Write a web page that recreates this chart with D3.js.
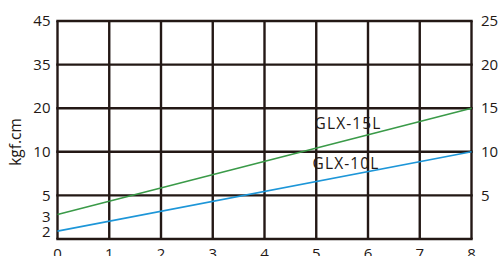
<!DOCTYPE html>
<html>
<head>
<meta charset="utf-8">
<script src="https://cdn.jsdelivr.net/npm/d3@7"></script>
<style>
  body { margin: 0; background: #fff; }
  svg { display: block; font-family: "Open Sans", "Noto Sans", sans-serif; }
</style>
</head>
<body>
<svg id="chart" width="498" height="256"></svg>
<script>
// x axis: 0..8
const xTicks = [0, 1, 2, 3, 4, 5, 6, 7, 8];
// right axis values (the scale the lines are drawn in)
const rightTicks = [5, 10, 15, 20, 25];
// left axis labels and where they sit on the right-axis scale
const leftLabels = ["45", "35", "20", "10", "5", "3", "2"];
const leftPos = [25, 20, 15, 10, 5, 2.6, 0.8];

const xs = [0, 8];
const glx15 = [2.8, 15];
const glx10 = [0.9, 10];

const seriesNames = ["GLX-15L", "GLX-10L"];

const svg = d3.select("#chart");
const margin = { left: 57.5, right: 26.5, top: 21, bottom: 17 };
const W = 498, H = 256;

const x = d3.scaleLinear().domain([0, 8]).range([margin.left, W - margin.right]);
const y = d3.scaleLinear().domain([0, 25]).range([H - margin.bottom, margin.top]);

const ink = "#231815";

// grid
svg.append("g")
  .selectAll("line")
  .data(xTicks)
  .join("line")
  .attr("x1", (d) => x(d)).attr("x2", (d) => x(d))
  .attr("y1", y(0)).attr("y2", y(25))
  .attr("stroke", ink).attr("stroke-width", 2.4);

svg.append("g")
  .selectAll("line")
  .data([0].concat(rightTicks))
  .join("line")
  .attr("x1", x(0) - 1.2).attr("x2", x(8) + 1.2)
  .attr("y1", (d) => y(d)).attr("y2", (d) => y(d))
  .attr("stroke", ink).attr("stroke-width", 2.4);

// lines
const line = d3.line().x((d) => x(d[0])).y((d) => y(d[1]));
svg.append("path")
  .attr("d", line(xs.map((v, i) => [v, glx15[i]])))
  .attr("fill", "none").attr("stroke", "#3a9a48").attr("stroke-width", 1.6);
svg.append("path")
  .attr("d", line(xs.map((v, i) => [v, glx10[i]])))
  .attr("fill", "none").attr("stroke", "#1d96d8").attr("stroke-width", 1.6);

const txt = "#231815";

// left labels
svg.append("g")
  .selectAll("text")
  .data(leftLabels)
  .join("text")
  .attr("x", 50.5)
  .attr("y", (d, i) => y(leftPos[i]))
  .attr("dy", "0.35em")
  .attr("text-anchor", "end")
  .attr("font-size", 15)
  .attr("fill", txt)
  .text((d) => d);

// right labels
svg.append("g")
  .selectAll("text")
  .data(rightTicks)
  .join("text")
  .attr("x", 481)
  .attr("y", (d) => y(d))
  .attr("dy", "0.35em")
  .attr("font-size", 15)
  .attr("fill", txt)
  .text((d) => d);

// bottom labels
svg.append("g")
  .selectAll("text")
  .data(xTicks)
  .join("text")
  .attr("x", (d) => x(d))
  .attr("y", 259)
  .attr("text-anchor", "middle")
  .attr("font-size", 15)
  .attr("fill", txt)
  .text((d) => d);

// axis title
svg.append("text")
  .attr("transform", "translate(21,142) rotate(-90)")
  .attr("text-anchor", "middle")
  .attr("font-size", 15.5)
  .attr("fill", txt)
  .text("kgf.cm");

// series labels
svg.append("text")
  .attr("x", 348).attr("y", 123.5).attr("dy", "0.35em")
  .attr("text-anchor", "middle").attr("font-size", 15.5).attr("letter-spacing", 1.1)
  .attr("fill", txt).text(seriesNames[0]);
svg.append("text")
  .attr("x", 346).attr("y", 163.5).attr("dy", "0.35em")
  .attr("text-anchor", "middle").attr("font-size", 15.5).attr("letter-spacing", 1.1)
  .attr("fill", txt).text(seriesNames[1]);
</script>
</body>
</html>
